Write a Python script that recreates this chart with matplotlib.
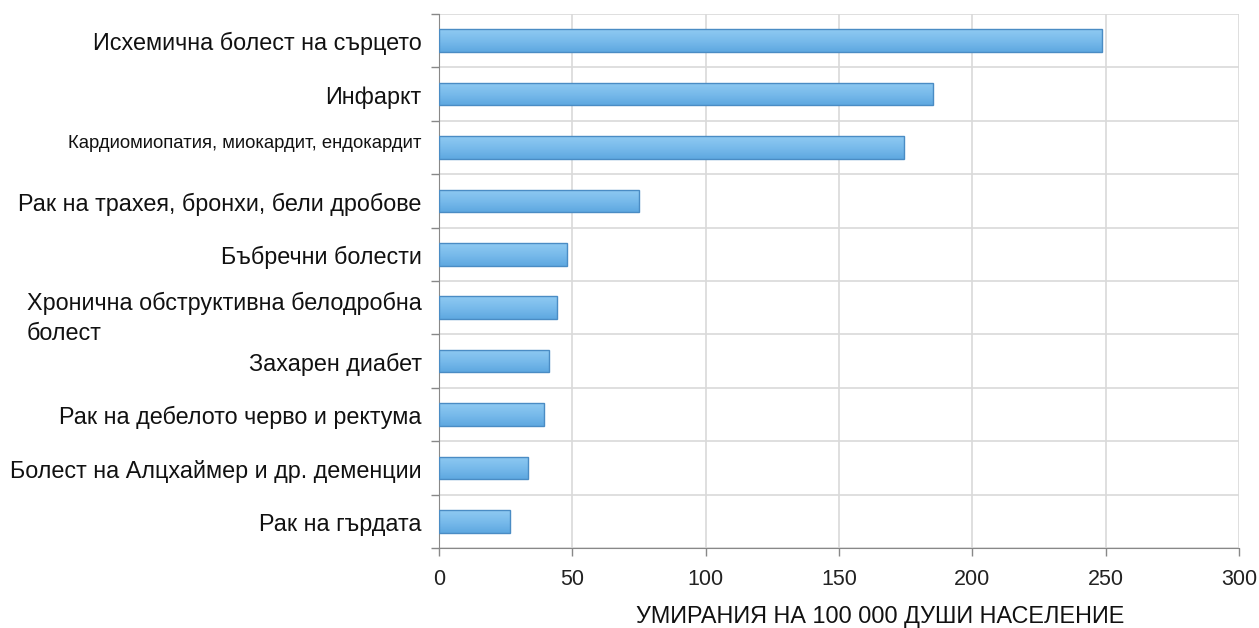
import matplotlib
matplotlib.use('Agg')
import matplotlib.pyplot as plt
import numpy as np

plt.rcParams['font.family'] = ['Liberation Sans', 'DejaVu Sans']

# causes of death, top to bottom
causes = [
    'Исхемична болест на сърцето',
    'Инфаркт',
    'Кардиомиопатия, миокардит, ендокардит',
    'Рак на трахея, бронхи, бели дробове',
    'Бъбречни болести',
    'Хронична обструктивна белодробна\nболест',
    'Захарен диабет',
    'Рак на дебелото черво и ректума',
    'Болест на Алцхаймер и др. деменции',
    'Рак на гърдата',
]
deaths = [248.5, 185.2, 174.4, 75.0, 48.0, 44.2, 41.2, 39.4, 33.4, 26.6]
x_ticks = [0, 50, 100, 150, 200, 250, 300]

fig = plt.figure(figsize=(12.59, 6.28), dpi=100)
ax = fig.add_axes([0.3487, 0.1274, 0.6354, 0.8503])

ypos = np.arange(len(causes))
bars = ax.barh(ypos, deaths, height=0.42, color='#74b6e8',
               edgecolor='#4a8cc4', linewidth=1.0, zorder=3)

# vertical gradient inside each bar
grad = np.linspace(0, 1, 64).reshape(-1, 1)
cmap = matplotlib.colors.LinearSegmentedColormap.from_list(
    'barblue', ['#8fcaf2', '#79bbeb', '#5ea8e0'])
for b in bars:
    y0, h, w = b.get_y(), b.get_height(), b.get_width()
    im = ax.imshow(grad, cmap=cmap, aspect='auto', extent=(0, w, y0 + h, y0),
                   origin='upper', zorder=3.5, interpolation='bilinear')
    im.set_clip_path(b)
    b.set_facecolor('none')
    b.set_zorder(4)

ax.set_xlim(0, 300)
ax.set_ylim(len(causes) - 0.5, -0.5)
ax.set_xticks(x_ticks)
ax.set_xticklabels([str(t) for t in x_ticks], fontsize=15.5, color='#222222')

# category boundaries carry the ticks and horizontal gridlines
ax.set_yticks(np.arange(len(causes) + 1) - 0.5)
ax.set_yticklabels([])
ax.tick_params(axis='y', length=6, color='#888888', width=1)
ax.tick_params(axis='x', length=6, color='#888888', width=1, pad=9)
ax.grid(True, color='#d9d9d9', linewidth=1.2, zorder=0)
ax.set_axisbelow(True)

for side in ['top', 'right']:
    ax.spines[side].set_visible(False)
ax.spines['left'].set_color('#888888')
ax.spines['bottom'].set_color('#888888')

# category labels
for i, name in enumerate(causes):
    fs = 16.8
    y = i + 0.06
    va = 'center'
    if i == 2:
        fs = 13.3
        y = i - 0.08
    if '\n' in name:
        y = i - 0.3
        va = 'top'
    ax.text(-6.5, y, name, ha='right', va=va, fontsize=fs,
            multialignment='left', color='#111111',
            transform=ax.transData, linespacing=1.4)

# axis title sits right of the axes centre in the original
fig.text(0.699, 0.018, 'УМИРАНИЯ НА 100 000 ДУШИ НАСЕЛЕНИЕ', fontsize=16.8,
         color='#111111', ha='center', va='center')

fig.savefig('out.png', dpi=100)
